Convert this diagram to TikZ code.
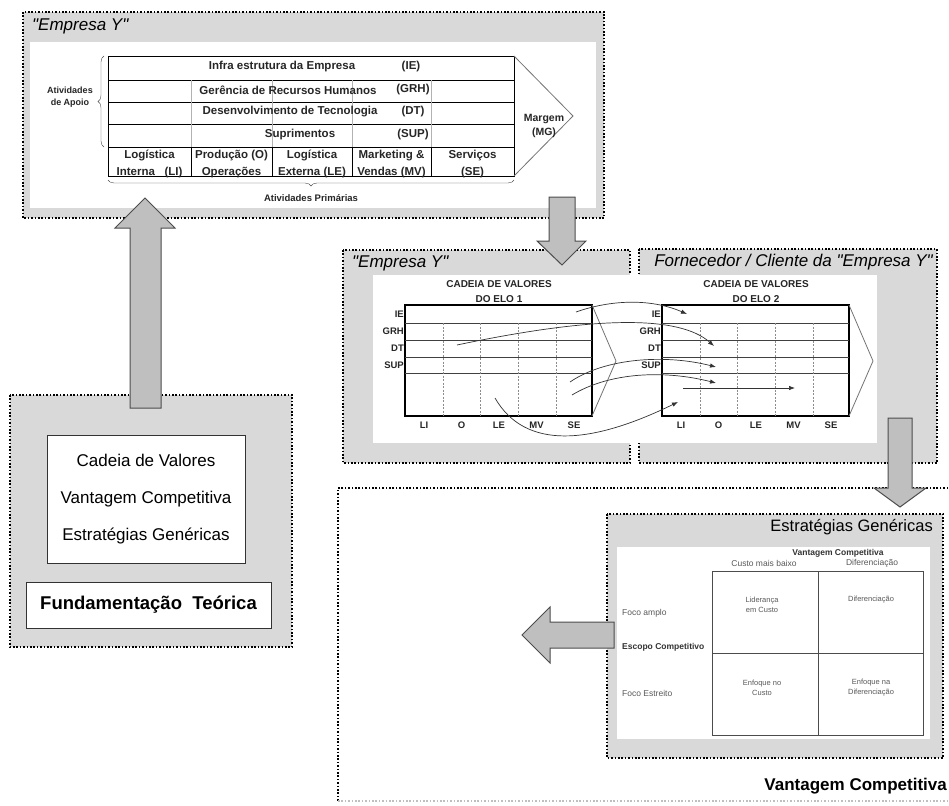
\documentclass[tikz,border=0pt]{standalone}
\usepackage{fontspec}
\setmainfont{Liberation Sans}
\usetikzlibrary{positioning,calc,arrows.meta,decorations.pathreplacing}

\definecolor{panelgray}{gray}{0.85}
\definecolor{arrowfill}{gray}{0.75}
\definecolor{arrowdraw}{gray}{0.3}
\definecolor{softtext}{gray}{0.35}

% one value chain of the middle row: #1 = left x, #2 = number of the link
\newcommand{\valuechain}[2]{%
  \draw[line width=1.5pt] (#1,305) rectangle (#1+187,416);
  \foreach \y in {323,340,357,373}
    \draw[rowline] (#1,\y) -- (#1+187,\y);
  \foreach \dx in {38,75,113,151}
    \draw[colline] (#1+\dx,323) -- (#1+\dx,416);
  \draw[tipline] (#1+187,305) -- (#1+211,361) -- (#1+187,416);
  \node[chaintitle] (cadeia#2) at (#1+94,291.5) {CADEIA DE VALORES\\DO ELO #2};
  \foreach \lab/\y in {IE/314,GRH/331,DT/348,SUP/365}
    \node[chainlbl,anchor=east] (\lab#2) at (#1-1,\y) {\lab};
  \foreach \lab [count=\i] in {LI,O,LE,MV,SE}
    \node[chainlbl] (\lab#2b) at (#1+37.5*\i-18.5,425) {\lab};
}

\begin{document}
\begin{tikzpicture}[x=1pt,y=-1pt]
\tikzset{
    panel/.style={fill=panelgray,draw=black,line width=1.6pt,dash pattern=on 1.6pt off 1.8pt},
    title/.style={inner sep=0pt,font=\fontsize{17}{20}\selectfont\itshape},
    chaintxt/.style={inner sep=0pt,align=center,text=black!85,font=\fontsize{11.5}{17}\selectfont\bfseries},
    chaintitle/.style={inner sep=0pt,align=center,text=black!85,font=\fontsize{10}{15}\selectfont\bfseries},
    chainlbl/.style={inner sep=0pt,text=black!85,font=\fontsize{9.5}{11}\selectfont\bfseries},
    rowline/.style={line width=0.9pt,black!75},
    colline/.style={black!45,dash pattern=on 2pt off 1.5pt},
    tipline/.style={black!55,line width=0.8pt},
    bigarrow/.style={fill=arrowfill,draw=arrowdraw,line width=1pt,line join=miter},
    link/.style={-{Latex[length=6pt,width=4.5pt]},line width=0.7pt,black!80},
    strat/.style={inner sep=0pt,align=center,text=softtext,font=\fontsize{8.5}{10.5}\selectfont},
    cellt/.style={inner sep=0pt,align=center,text=softtext,font=\fontsize{7.5}{10}\selectfont},
    theory/.style={inner sep=0pt,align=center,font=\fontsize{17}{37}\selectfont},
}
\useasboundingbox (0,0) rectangle (949,805);

% outer frame: vantagem competitiva
\fill[white] (338,488) rectangle (949,801);
\draw[panel,fill=none] (955,488) -- (338,488) -- (338,801);
\draw[panel,fill=none,draw=black!25] (338,801) -- (955,801);
\node[anchor=east,inner sep=0pt,font=\fontsize{17}{20}\selectfont\bfseries] (vantagem) at (947,786) {Vantagem Competitiva};

% top panel: value chain of the firm
\draw[panel] (23,12) rectangle (604,218);
\fill[white] (30,42) rectangle (596,208);
\node[title,anchor=west] (emp1) at (32,26) {\textquotedbl Empresa Y\textquotedbl};
\draw[line width=0.9pt] (108,56) rectangle (514,176);
\foreach \y in {80,102,124,147}
  \draw[line width=0.9pt] (108,\y) -- (514,\y);
\foreach \x in {191,272,352,431} {
  \draw[black!30] (\x,80) -- (\x,147);
  \draw[line width=0.9pt] (\x,147) -- (\x,176);
}
\draw[tipline] (514,56) -- (573,116) -- (514,176);
\node[chaintxt] (ie) at (282,67) {Infra estrutura da Empresa};
\node[chaintxt] (ieb) at (411,67) {(IE)};
\node[chaintxt] (grh) at (288,90) {Gerência de Recursos Humanos};
\node[chaintxt] (grhb) at (413,90) {(GRH)};
\node[chaintxt] (dt) at (290,112) {Desenvolvimento de Tecnologia};
\node[chaintxt] (dtb) at (413,112) {(DT)};
\node[chaintxt] (sup) at (300,135) {Suprimentos};
\node[chaintxt] (supb) at (413,135) {(SUP)};
\node[chaintxt] (li) at (149.5,164) {Logística\\Interna\ \ \ (LI)};
\node[chaintxt] (op) at (231.5,164) {Produção (O)\\Operações};
\node[chaintxt] (le) at (312,164) {Logística\\Externa (LE)};
\node[chaintxt] (mv) at (391.5,164) {Marketing \&\\Vendas (MV)};
\node[chaintxt] (se) at (472.5,164) {Serviços\\(SE)};
\node[chaintxt,font=\fontsize{10.5}{14}\selectfont\bfseries] (mg) at (544,126) {Margem\\(MG)};
\draw[black!70,decorate,decoration={brace,amplitude=6pt}] (104,147) -- (104,56);
\node[chaintxt,font=\fontsize{9}{12}\selectfont\bfseries] (apoio) at (70,97) {Atividades\\de Apoio};
\draw[black!70,decorate,decoration={brace,amplitude=6pt}] (514,180) -- (108,180);
\node[chaintxt,font=\fontsize{9.5}{12}\selectfont\bfseries] (prim) at (311,198) {Atividades Primárias};

% middle panels: the two links
\draw[panel] (343,250) rectangle (630,463);
\draw[panel] (639,249) rectangle (937,463);
\fill[white] (373,275) rectangle (877,443);
\node[title,anchor=west] (emp2) at (352,263) {\textquotedbl Empresa Y\textquotedbl};
\node[title,anchor=east] (forn) at (933,262) {Fornecedor / Cliente da \textquotedbl Empresa Y\textquotedbl};
\valuechain{405}{1}
\valuechain{662}{2}

% links between the two chains
\coordinate (l1a) at (576,312); \coordinate (l1b) at (687,314);
\coordinate (l2a) at (457,345); \coordinate (l2b) at (714,346);
\coordinate (l3a) at (570,382); \coordinate (l3b) at (716,367);
\coordinate (l4a) at (572,395); \coordinate (l4b) at (716,383);
\coordinate (l5a) at (683,388); \coordinate (l5b) at (795,388);
\coordinate (l6a) at (495,398); \coordinate (l6b) at (678,402);
\draw[link] (l1a) .. controls (610,300) and (650,298) .. (l1b);
\draw[link] (l2a) .. controls (600,315) and (680,316) .. (l2b);
\draw[link] (l3a) .. controls (605,358) and (665,354) .. (l3b);
\draw[link] (l4a) .. controls (610,372) and (665,370) .. (l4b);
\draw[link] (l5a) -- (l5b);
\draw[link] (l6a) .. controls (525,450) and (590,445) .. (l6b);

% generic strategies
\draw[panel] (607,514) rectangle (943,758);
\fill[white] (617,547) rectangle (930,739);
\node[anchor=east,inner sep=0pt,font=\fontsize{16.5}{20}\selectfont] (estr) at (933,527) {Estratégias Genéricas};
\draw[black!70,line width=0.7pt] (712,571) rectangle (923,735);
\draw[black!70,line width=0.7pt] (818,571) -- (818,735);
\draw[black!70,line width=0.7pt] (712,653) -- (923,653);
\node[strat,text=black!80,font=\fontsize{8.5}{10}\selectfont\bfseries] (vc) at (838,553) {Vantagem Competitiva};
\node[strat] (custo) at (764,563) {Custo mais baixo};
\node[strat] (dif) at (872,563) {Diferenciação};
\node[strat,anchor=west] (amplo) at (622,613) {Foco amplo};
\node[strat,anchor=west,text=black!80,font=\fontsize{8.5}{10}\selectfont\bfseries] (escopo) at (622,647) {Escopo Competitivo};
\node[strat,anchor=west] (estreito) at (622,693) {Foco Estreito};
\node[cellt] (lider) at (762,605) {Liderança\\em Custo};
\node[cellt] (difc) at (871,600) {Diferenciação};
\node[cellt] (enfc) at (762,688) {Enfoque no\\Custo};
\node[cellt] (enfd) at (871,688) {Enfoque na\\Diferenciação};

% theoretical base
\draw[panel] (10,395) rectangle (292,647);
\node[theory,draw=black!80,line width=1pt,fill=white,minimum width=198pt,minimum height=128pt] (conc) at (146,499)
  {Cadeia de Valores\\Vantagem Competitiva\\Estratégias Genéricas};
\node[theory,draw=black!80,line width=1pt,fill=white,minimum width=245pt,minimum height=46pt,
  font=\fontsize{18.5}{22}\selectfont\bfseries] (fund) at (148.5,605) {Fundamentação\ \ Teórica};

% block arrows
\draw[bigarrow] (130,408) -- (130,228) -- (115,228) -- (145,198) -- (175,228) -- (161,228) -- (161,408) -- cycle;
\draw[bigarrow] (549,197) -- (549,241) -- (537,241) -- (562,265) -- (586,241) -- (575,241) -- (575,197) -- cycle;
\draw[bigarrow] (888,418) -- (888,488) -- (874,488) -- (900,507) -- (926,488) -- (912,488) -- (912,418) -- cycle;
\draw[bigarrow] (614,622) -- (550,622) -- (550,607) -- (522,635) -- (550,663) -- (550,648) -- (614,648) -- cycle;
\end{tikzpicture}
\end{document}
